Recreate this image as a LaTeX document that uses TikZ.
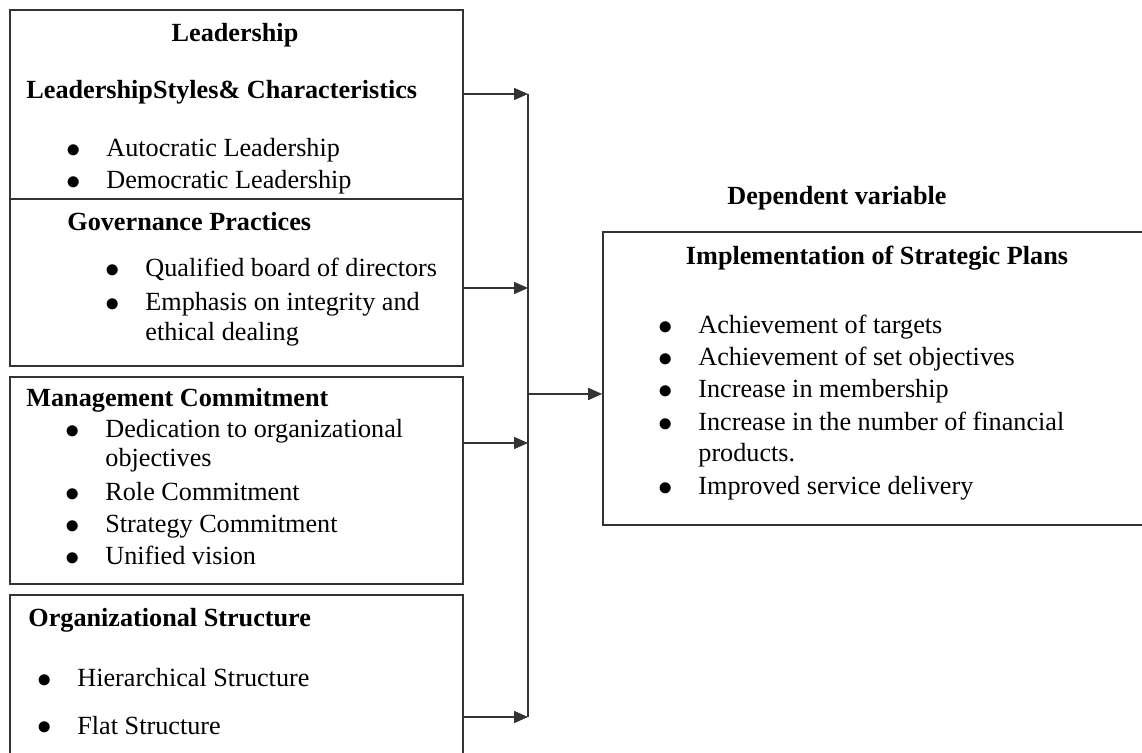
\documentclass[tikz,border=0pt]{standalone}
\usepackage{fontspec}
\setmainfont{Liberation Serif}
\usetikzlibrary{positioning,fit,arrows.meta}
\newcommand{\itembul}{\makebox[20pt][l]{\fontsize{15}{15}\selectfont\raisebox{-0.4pt}{$\bullet$}}}

\begin{document}
\begin{tikzpicture}[x=0.5pt,y=-0.5pt,
  box/.style={draw=black!80,line width=0.8pt,inner sep=0pt},
  txt/.style={inner sep=0pt,anchor=base west,font=\fontsize{13.1}{15}\selectfont},
  head/.style={txt,font=\fontsize{13.1}{15}\selectfont\bfseries},
  arr/.style={-{Triangle[length=7pt,width=6pt]},draw=black!80,line width=0.8pt}]
\clip (0,0) rectangle (1142,753);

% boxes
\node[box,fit={(10,10) (463,199)}] (lead) {};
\node[box,fit={(10,199) (463,366)}] (gov) {};
\node[box,fit={(10,377) (463,584)}] (mgmt) {};
\node[box,fit={(10,595) (463,790)}] (org) {};
\node[box,fit={(603,232) (1180,525)}] (dep) {};

% leadership
\node[head,anchor=base] (t1) at (235,42) {Leadership};
\node[head] (t2) at (26,99) {LeadershipStyles\& Characteristics};
\node[txt] (a1) at (66,157) {\itembul Autocratic Leadership};
\node[txt] (a2) at (66,189) {\itembul Democratic Leadership};

% governance
\node[head] (g0) at (67,231) {Governance Practices};
\node[txt] (g1) at (105,277) {\itembul Qualified board of directors};
\node[txt] (g2) at (105,311) {\itembul Emphasis on integrity and};
\node[txt] (g3) at (145,341) {ethical dealing};

% management
\node[head] (m0) at (26,407) {Management Commitment};
\node[txt] (m1) at (65,438) {\itembul Dedication to organizational};
\node[txt] (m2) at (105,467) {objectives};
\node[txt] (m3) at (65,501) {\itembul Role Commitment};
\node[txt] (m4) at (65,533) {\itembul Strategy Commitment};
\node[txt] (m5) at (65,565) {\itembul Unified vision};

% structure
\node[head] (o0) at (28,627) {Organizational Structure};
\node[txt] (o1) at (37,687) {\itembul Hierarchical Structure};
\node[txt] (o2) at (37,734) {\itembul Flat Structure};

% dependent variable
\node[head,anchor=base] (dv) at (837,205) {Dependent variable};
\node[head,anchor=base] (d0) at (877,265) {Implementation of Strategic Plans};
\node[txt] (d1) at (658,334) {\itembul Achievement of targets};
\node[txt] (d2) at (658,366) {\itembul Achievement of set objectives};
\node[txt] (d3) at (658,398) {\itembul Increase in membership};
\node[txt] (d4) at (658,431) {\itembul Increase in the number of financial};
\node[txt] (d5) at (698,462) {products.};
\node[txt] (d6) at (658,495) {\itembul Improved service delivery};

% connectors
\coordinate (j1) at (528,94);
\coordinate (j2) at (528,288);
\coordinate (jd) at (528,394);
\coordinate (j3) at (528,443);
\coordinate (j4) at (528,717);

\draw[arr] (lead.east |- j1) -- (j1);
\draw[arr] (gov.east |- j2) -- (j2);
\draw[arr] (mgmt.east |- j3) -- (j3);
\draw[arr] (org.east |- j4) -- (j4);
\draw[draw=black!80,line width=0.8pt] (j1) -- (j4);
\draw[arr] (jd) -- (dep.west |- jd);
\end{tikzpicture}
\end{document}
